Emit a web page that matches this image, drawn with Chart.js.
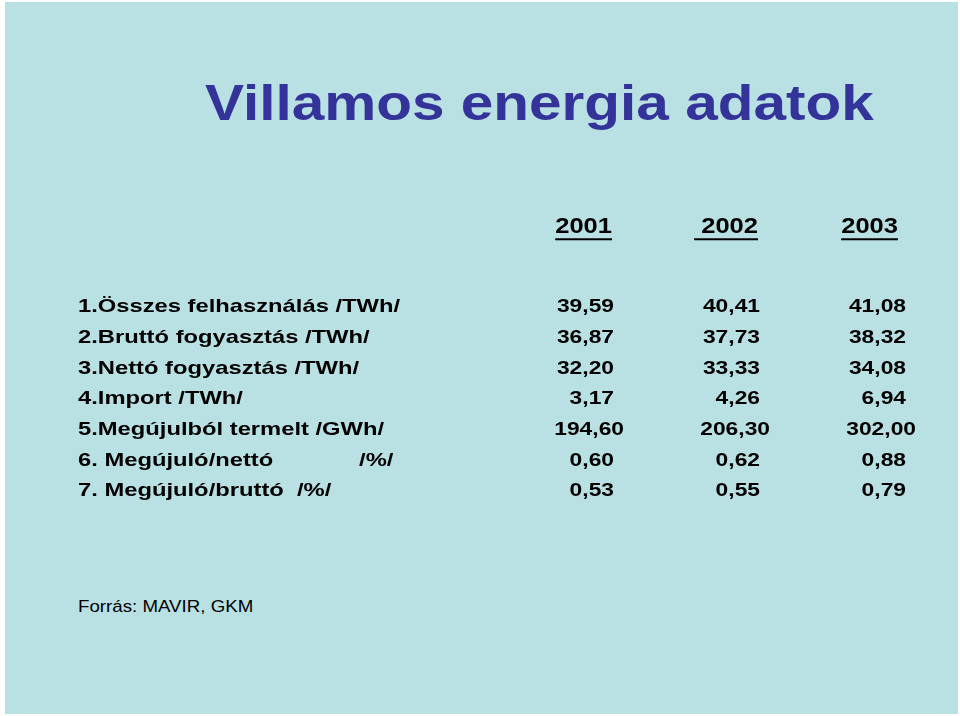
<!DOCTYPE html>
<html><head><meta charset="utf-8">
<script src="https://cdn.jsdelivr.net/npm/chart.js@4/dist/chart.umd.min.js"></script>
<style>
html,body{margin:0;padding:0;background:#fff;}
#wrap{position:absolute;left:5px;top:2px;width:953px;height:712px;background:#b9e0e3;}
#title{position:absolute;left:205px;top:74px;white-space:nowrap;font:bold 50px "Liberation Sans",Arial,sans-serif;color:#333399;transform:scaleX(1.17);transform-origin:left top;}
#src{position:absolute;left:78px;top:597px;white-space:nowrap;font:17px "Liberation Sans",Arial,sans-serif;color:#000;transform:scaleX(1.1);transform-origin:left top;}
canvas{position:absolute;left:0;top:0;}
</style></head><body>
<div id="wrap"></div>
<div id="title">Villamos energia adatok</div>
<div id="src">Forrás: MAVIR, GKM</div>
<canvas id="c" width="960" height="716"></canvas>
<script>
const years = ["2001", " 2002", "2003"];
const rowLabels = [
  "1.Összes felhasználás /TWh/",
  "2.Bruttó fogyasztás /TWh/",
  "3.Nettó fogyasztás /TWh/",
  "4.Import /TWh/",
  "5.Megújulból termelt /GWh/",
  "6. Megújuló/nettó             /%/",
  "7. Megújuló/bruttó  /%/"
];
const v2001 = ["39,59","36,87","32,20","3,17","194,60","0,60","0,53"];
const v2002 = ["40,41","37,73","33,33","4,26","206,30","0,62","0,55"];
const v2003 = ["41,08","38,32","34,08","6,94","302,00","0,88","0,79"];
const cols = [v2001, v2002, v2003];

const pts = [];
cols.forEach((col, c) => col.forEach((t, r) => pts.push({x: c, y: r, t})));

function txt(ctx, t, x, y, align, sx) {
  ctx.save();
  ctx.translate(x, y);
  ctx.scale(sx, 1);
  ctx.textAlign = align;
  ctx.fillText(t, 0, 0);
  const w = ctx.measureText(t).width * sx;
  ctx.restore();
  return w;
}

const textPlugin = {
  id: 'tableText',
  afterDatasetsDraw(chart) {
    const ctx = chart.ctx, xs = chart.scales.x, ys = chart.scales.y;
    ctx.save();
    ctx.fillStyle = '#000';
    ctx.textBaseline = 'middle';
    ctx.font = 'bold 19px "Liberation Sans", Arial, sans-serif';
    const SX = 1.2;
    chart.getDatasetMeta(0).data.forEach((el, i) => {
      const p = pts[i];
      const dx = p.t.length > 5 ? 10 : 0;
      txt(ctx, p.t, el.x + dx - 6, el.y, 'right', SX);
    });
    rowLabels.forEach((l, r) => txt(ctx, l, 78, ys.getPixelForValue(r), 'left', 1.25));
    ctx.font = 'bold 22px "Liberation Sans", Arial, sans-serif';
    const hy = ys.getPixelForValue(-2.6);
    years.forEach((y, c) => {
      const xr = xs.getPixelForValue(c) - 8 - (c === 2 ? 6 : 0);
      const w = txt(ctx, y, xr, hy, 'right', 1.16);
      ctx.fillRect(xr - w, hy + 11, w, 2);
    });
    ctx.restore();
  }
};

new Chart(document.getElementById('c'), {
  type: 'scatter',
  data: { datasets: [{ data: pts, pointRadius: 0, pointHoverRadius: 0 }] },
  options: {
    responsive: false, animation: false, events: [],
    layout: { padding: { left: 620, right: 48, top: 307, bottom: 225 } },
    plugins: { legend: { display: false }, tooltip: { enabled: false } },
    scales: {
      x: { type: 'linear', min: 0, max: 2, display: false },
      y: { type: 'linear', min: 0, max: 6, reverse: true, display: false }
    }
  },
  plugins: [textPlugin]
});
</script>
</body></html>
